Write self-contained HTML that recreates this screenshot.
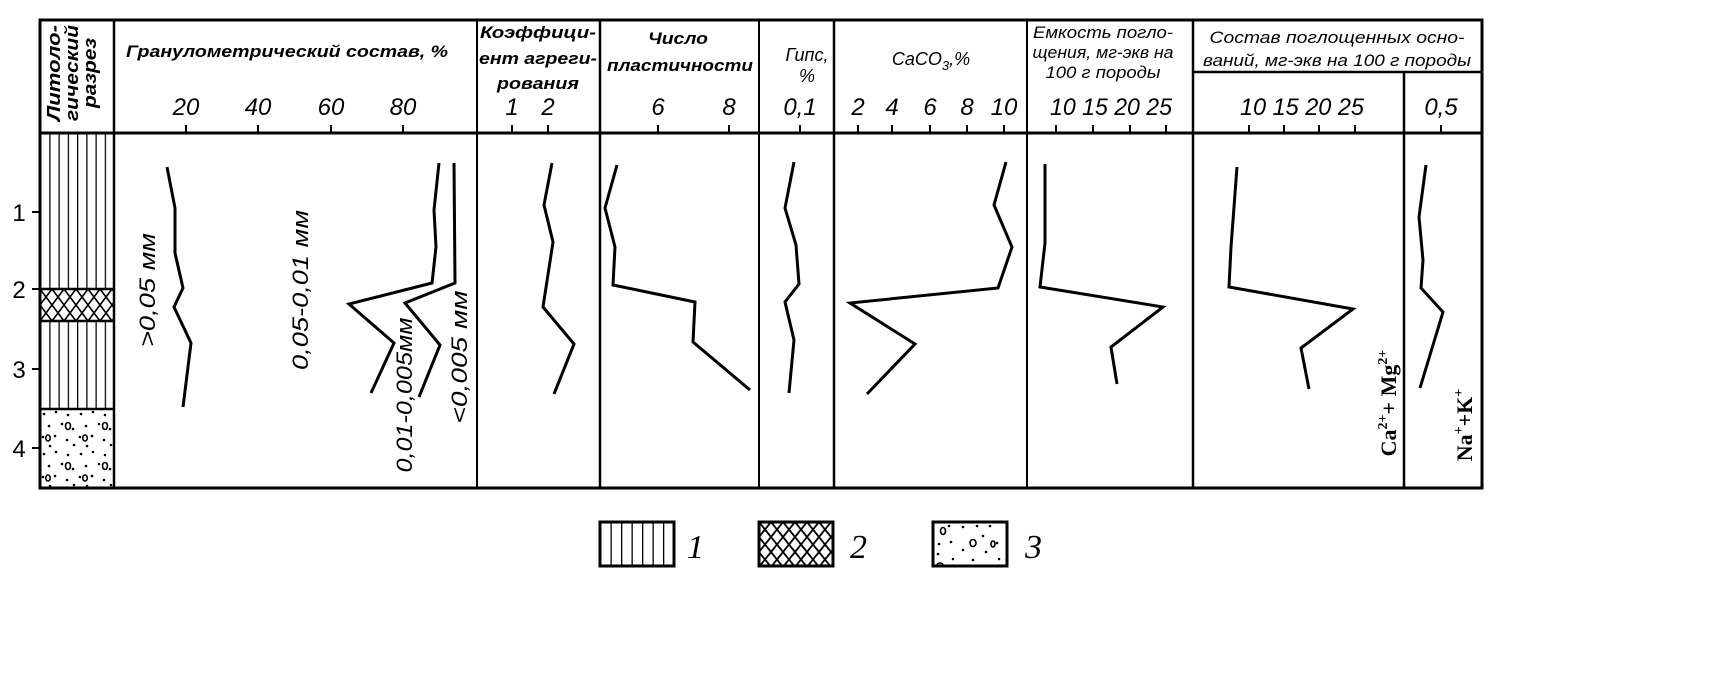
<!DOCTYPE html>
<html><head><meta charset="utf-8"><style>
html,body{margin:0;padding:0;background:#fff;}
svg{display:block;}
text{font-family:"Liberation Sans",sans-serif;font-style:italic;fill:#000;}
.b{font-weight:bold;}
.t{font-size:24px;text-anchor:middle;}
.c{fill:none;stroke:#000;stroke-width:3;stroke-linejoin:miter;}
.s{font-family:"Liberation Serif",serif;font-style:normal;font-weight:bold;font-size:22px;}
</style></head><body>
<svg width="1714" height="687" viewBox="0 0 1714 687" xmlns="http://www.w3.org/2000/svg">
<defs>
<pattern id="vl" x="40" y="0" width="9.25" height="10" patternUnits="userSpaceOnUse"><line x1="0.5" y1="0" x2="0.5" y2="10" stroke="#000" stroke-width="1.5"/></pattern>
<pattern id="xh" x="40" y="289" width="12" height="16" patternUnits="userSpaceOnUse"><path d="M0,0 L12,16 M12,0 L0,16" stroke="#000" stroke-width="1.6" fill="none"/></pattern>
<pattern id="dt" x="40" y="409" width="37" height="40" patternUnits="userSpaceOnUse">
<circle cx="4" cy="5" r="1.3"/><circle cx="16" cy="3" r="1.3"/><circle cx="28" cy="6" r="1.3"/><circle cx="9" cy="17" r="1.3"/><circle cx="22" cy="15" r="1.3"/><circle cx="33" cy="20" r="1.3"/><circle cx="3" cy="28" r="1.3"/><circle cx="15" cy="27" r="1.3"/><circle cx="27" cy="31" r="1.3"/><circle cx="10" cy="37" r="1.3"/><circle cx="34" cy="36" r="1.3"/>
<ellipse cx="28" cy="17" rx="2.5" ry="3.5" fill="none" stroke="#000" stroke-width="1.6"/><ellipse cx="8" cy="29" rx="2.2" ry="3" fill="none" stroke="#000" stroke-width="1.6"/>
</pattern>
</defs>
<rect x="40" y="133" width="74" height="156" fill="url(#vl)"/>
<rect x="40" y="289" width="74" height="32" fill="url(#xh)"/>
<rect x="40" y="321" width="74" height="88" fill="url(#vl)"/>
<rect x="40" y="409" width="74" height="79" fill="url(#dt)"/>
<g stroke="#000" stroke-width="2.5">
<line x1="40" y1="289" x2="114" y2="289"/><line x1="40" y1="321" x2="114" y2="321"/><line x1="40" y1="409" x2="114" y2="409"/>
</g>
<g stroke="#000" fill="none">
<rect x="40" y="20" width="1442" height="468" stroke-width="3"/>
<line x1="40" y1="133" x2="1482" y2="133" stroke-width="3"/>
<line x1="114" y1="20" x2="114" y2="488" stroke-width="2.5"/>
<line x1="477" y1="20" x2="477" y2="488" stroke-width="2"/>
<line x1="600" y1="20" x2="600" y2="488" stroke-width="2.5"/>
<line x1="759" y1="20" x2="759" y2="488" stroke-width="2"/>
<line x1="834" y1="20" x2="834" y2="488" stroke-width="2.5"/>
<line x1="1027" y1="20" x2="1027" y2="488" stroke-width="2"/>
<line x1="1193" y1="20" x2="1193" y2="488" stroke-width="2.5"/>
<line x1="1193" y1="72" x2="1482" y2="72" stroke-width="2.5"/>
<line x1="1404" y1="72" x2="1404" y2="488" stroke-width="2.5"/>
</g>
<g stroke="#000" stroke-width="2">
<line x1="186" y1="125" x2="186" y2="133"/><line x1="258" y1="125" x2="258" y2="133"/><line x1="331" y1="125" x2="331" y2="133"/><line x1="403" y1="125" x2="403" y2="133"/>
<line x1="512" y1="125" x2="512" y2="133"/><line x1="548" y1="125" x2="548" y2="133"/>
<line x1="658" y1="125" x2="658" y2="133"/><line x1="729" y1="125" x2="729" y2="133"/>
<line x1="800" y1="125" x2="800" y2="133"/>
<line x1="858" y1="125" x2="858" y2="133"/><line x1="892" y1="125" x2="892" y2="133"/><line x1="930" y1="125" x2="930" y2="133"/><line x1="967" y1="125" x2="967" y2="133"/><line x1="1004" y1="125" x2="1004" y2="133"/>
<line x1="1056" y1="125" x2="1056" y2="133"/><line x1="1093" y1="125" x2="1093" y2="133"/><line x1="1130" y1="125" x2="1130" y2="133"/><line x1="1166" y1="125" x2="1166" y2="133"/>
<line x1="1249" y1="125" x2="1249" y2="133"/><line x1="1284" y1="125" x2="1284" y2="133"/><line x1="1319" y1="125" x2="1319" y2="133"/><line x1="1355" y1="125" x2="1355" y2="133"/>
<line x1="1441" y1="125" x2="1441" y2="133"/>
<line x1="32" y1="212" x2="40" y2="212"/><line x1="32" y1="289" x2="40" y2="289"/><line x1="32" y1="369" x2="40" y2="369"/><line x1="32" y1="448" x2="40" y2="448"/>
</g>
<g font-size="24" text-anchor="middle">
<text x="19" y="221" style="font-style:normal">1</text><text x="19" y="298" style="font-style:normal">2</text><text x="19" y="378" style="font-style:normal">3</text><text x="19" y="457" style="font-style:normal">4</text>
</g>
<text class="t" x="186" y="115">20</text><text class="t" x="258" y="115">40</text><text class="t" x="331" y="115">60</text><text class="t" x="403" y="115">80</text>
<text class="t" x="512" y="115">1</text><text class="t" x="548" y="115">2</text>
<text class="t" x="658" y="115">6</text><text class="t" x="729" y="115">8</text>
<text class="t" x="800" y="115">0,1</text>
<text class="t" x="858" y="115">2</text><text class="t" x="892" y="115">4</text><text class="t" x="930" y="115">6</text><text class="t" x="967" y="115">8</text><text class="t" x="1004" y="115">10</text>
<text class="t" x="1111" y="115" textLength="122" lengthAdjust="spacingAndGlyphs">10 15 20 25</text>
<text class="t" x="1302" y="115" textLength="124" lengthAdjust="spacingAndGlyphs">10 15 20 25</text>
<text class="t" x="1441" y="115">0,5</text>
<g class="b" font-size="18" text-anchor="middle">
<text transform="translate(60,73) rotate(-90)" textLength="96" lengthAdjust="spacingAndGlyphs">Литоло-</text>
<text transform="translate(78,73) rotate(-90)" textLength="96" lengthAdjust="spacingAndGlyphs">гический</text>
<text transform="translate(96,73) rotate(-90)" textLength="70" lengthAdjust="spacingAndGlyphs">разрез</text>
</g>
<text class="b" x="287" y="57" font-size="17" text-anchor="middle" textLength="322" lengthAdjust="spacingAndGlyphs">Гранулометрический состав, %</text>
<text class="b" x="538" y="38" font-size="17" text-anchor="middle" textLength="116" lengthAdjust="spacingAndGlyphs">Коэффици-</text>
<text class="b" x="538" y="64" font-size="17" text-anchor="middle" textLength="118" lengthAdjust="spacingAndGlyphs">ент агреги-</text>
<text class="b" x="538" y="89" font-size="17" text-anchor="middle" textLength="82" lengthAdjust="spacingAndGlyphs">рования</text>
<text class="b" x="678" y="44" font-size="17" text-anchor="middle" textLength="60" lengthAdjust="spacingAndGlyphs">Число</text>
<text class="b" x="680" y="71" font-size="17" text-anchor="middle" textLength="146" lengthAdjust="spacingAndGlyphs">пластичности</text>
<text x="807" y="61" font-size="18" text-anchor="middle">Гипс,</text>
<text x="807" y="82" font-size="18" text-anchor="middle">%</text>
<text x="931" y="65" font-size="18" text-anchor="middle">CaCO<tspan font-size="13" dy="5">3</tspan><tspan dy="-5">,%</tspan></text>
<text x="1103" y="38" font-size="17" text-anchor="middle" textLength="140" lengthAdjust="spacingAndGlyphs">Емкость погло-</text>
<text x="1103" y="58" font-size="17" text-anchor="middle" textLength="141" lengthAdjust="spacingAndGlyphs">щения, мг-экв на</text>
<text x="1103" y="78" font-size="17" text-anchor="middle" textLength="115" lengthAdjust="spacingAndGlyphs">100 г породы</text>
<text x="1337" y="43" font-size="17" text-anchor="middle" textLength="255" lengthAdjust="spacingAndGlyphs">Состав поглощенных осно-</text>
<text x="1337" y="66" font-size="17" text-anchor="middle" textLength="268" lengthAdjust="spacingAndGlyphs">ваний, мг-экв на 100 г породы</text>
<polyline class="c" points="167,167 175,208 175,253 183,288 174,307 191,343 183,407"/>
<polyline class="c" points="439,163 434,210 436,247 432,283 349,304 394,343 371,393"/>
<polyline class="c" points="454,163 455,283 405,303 440,345 419,397"/>
<polyline class="c" points="552,163 544,205 553,242 543,307 574,344 554,394"/>
<polyline class="c" points="617,165 605,208 615,247 613,285 695,302 693,342 750,390"/>
<polyline class="c" points="794,162 785,208 796,245 799,284 785,302 794,340 789,393"/>
<polyline class="c" points="1006,162 994,205 1012,247 998,288 850,303 915,344 867,394"/>
<polyline class="c" points="1045,164 1045,243 1040,287 1163,307 1111,347 1117,384"/>
<polyline class="c" points="1237,167 1231,247 1229,287 1353,309 1301,348 1309,389"/>
<polyline class="c" points="1426,165 1419,217 1423,260 1421,288 1443,312 1420,388"/>
<text transform="translate(155,290) rotate(-90)" font-size="22" text-anchor="middle" textLength="114" lengthAdjust="spacingAndGlyphs">&gt;0,05 мм</text>
<text transform="translate(308,290) rotate(-90)" font-size="22" text-anchor="middle" textLength="160" lengthAdjust="spacingAndGlyphs">0,05-0,01 мм</text>
<text transform="translate(412,395) rotate(-90)" font-size="22" text-anchor="middle" textLength="155" lengthAdjust="spacingAndGlyphs">0,01-0,005мм</text>
<text transform="translate(467,357) rotate(-90)" font-size="22" text-anchor="middle" textLength="133" lengthAdjust="spacingAndGlyphs">&lt;0,005 мм</text>
<text class="s" transform="translate(1396,403) rotate(-90)" text-anchor="middle">Ca<tspan font-size="14" dy="-9">2+</tspan><tspan dy="9">+ Mg</tspan><tspan font-size="14" dy="-9">2+</tspan></text>
<text class="s" transform="translate(1472,425) rotate(-90)" text-anchor="middle">Na<tspan font-size="14" dy="-9">+</tspan><tspan dy="9">+K</tspan><tspan font-size="14" dy="-9">+</tspan></text>
<defs>
<pattern id="lv" x="600" y="0" width="10.5" height="10" patternUnits="userSpaceOnUse"><line x1="0.5" y1="0" x2="0.5" y2="10" stroke="#000" stroke-width="1.6"/></pattern>
<pattern id="lx" x="759" y="522" width="12" height="15" patternUnits="userSpaceOnUse"><path d="M0,0 L12,15 M12,0 L0,15" stroke="#000" stroke-width="1.8" fill="none"/></pattern>
<pattern id="ld" x="933" y="522" width="74" height="44" patternUnits="userSpaceOnUse">
<circle cx="6" cy="22" r="1.3"/><circle cx="16" cy="4" r="1.3"/><circle cx="30" cy="5" r="1.3"/><circle cx="44" cy="4" r="1.3"/><circle cx="57" cy="4" r="1.3"/><circle cx="18" cy="20" r="1.3"/><circle cx="30" cy="28" r="1.3"/><circle cx="50" cy="14" r="1.3"/><circle cx="64" cy="21" r="1.3"/><circle cx="5" cy="32" r="1.3"/><circle cx="20" cy="37" r="1.3"/><circle cx="40" cy="38" r="1.3"/><circle cx="53" cy="30" r="1.3"/><circle cx="66" cy="37" r="1.3"/>
<ellipse cx="10" cy="9" rx="2.5" ry="3.5" fill="none" stroke="#000" stroke-width="1.6"/><ellipse cx="40" cy="21" rx="3" ry="3.5" fill="none" stroke="#000" stroke-width="1.6"/><ellipse cx="60" cy="22" rx="2" ry="3" fill="none" stroke="#000" stroke-width="1.6"/><ellipse cx="7" cy="43" rx="3" ry="2" fill="none" stroke="#000" stroke-width="1.6"/>
</pattern>
</defs>
<rect x="600" y="522" width="74" height="44" fill="url(#lv)" stroke="#000" stroke-width="3"/>
<rect x="759" y="522" width="74" height="44" fill="url(#lx)" stroke="#000" stroke-width="3"/>
<rect x="933" y="522" width="74" height="44" fill="url(#ld)" stroke="#000" stroke-width="3"/>
<g font-size="34">
<text x="687" y="558" style="font-family:'Liberation Serif',serif">1</text>
<text x="850" y="558" style="font-family:'Liberation Serif',serif">2</text>
<text x="1025" y="558" style="font-family:'Liberation Serif',serif">3</text>
</g>
</svg>
</body></html>
